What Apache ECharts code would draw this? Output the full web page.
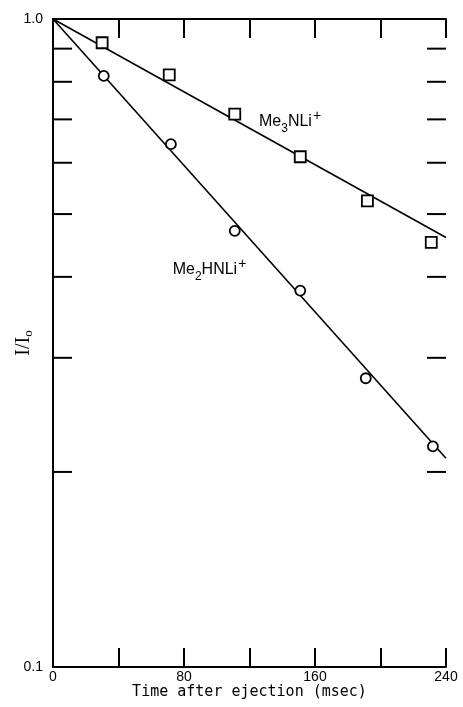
<!DOCTYPE html>
<html><head><meta charset="utf-8">
<script src="https://cdn.jsdelivr.net/npm/echarts@6/dist/echarts.min.js"></script>
<style>html,body{margin:0;padding:0;background:#fff}#c{width:463px;height:707px}</style>
</head><body><div id="c"></div>
<script>
// ---- data ----
const me3Time  = [30, 71, 111, 151, 192, 231];
const me3Ratio = [0.919, 0.820, 0.713, 0.613, 0.524, 0.452];
const me2Time  = [31, 72, 111, 151, 191, 232];
const me2Ratio = [0.817, 0.641, 0.471, 0.381, 0.279, 0.219];
const me3FitTime  = [0, 240];
const me3FitRatio = [1.0, 0.460];
const me2FitTime  = [0, 240];
const me2FitRatio = [1.0, 0.210];
const yMinorTicks = [0.2, 0.3, 0.4, 0.5, 0.6, 0.7, 0.8, 0.9];
const xLabelled   = [0, 80, 160, 240];

const zip = (a, b) => a.map((v, i) => [v, b[i]]);
const FONT = 'Liberation Sans';

const chart = echarts.init(document.getElementById('c'), null, {renderer: 'canvas'});
const axisLine = {show: true, lineStyle: {color: '#000', width: 2}};
const tick = {show: true, inside: true, length: 19, lineStyle: {color: '#000', width: 2}};

chart.setOption({
  animation: false,
  backgroundColor: '#fff',
  grid: {left: 53, right: 17, top: 19, bottom: 40, containLabel: false, outerBoundsMode: 'none'},
  xAxis: [{
    type: 'value', min: 0, max: 240, interval: 40, position: 'bottom',
    axisLine, axisTick: tick, splitLine: {show: false},
    axisLabel: {margin: 3, color: '#000', fontFamily: FONT, fontSize: 14,
      formatter: v => xLabelled.indexOf(v) >= 0 ? String(v) : ''},
    name: 'Time after ejection (msec)', nameLocation: 'middle', nameGap: 18, nameMoveOverlap: false,
    nameTextStyle: {color: '#000', fontFamily: 'DejaVu Sans Mono', fontSize: 15}
  }, {
    type: 'value', min: 0, max: 240, interval: 40, position: 'top',
    axisLine, axisTick: tick, splitLine: {show: false}, axisLabel: {show: false}
  }],
  yAxis: [{
    type: 'log', logBase: 10, min: 0.1, max: 1, position: 'left',
    axisLine, axisTick: {show: false}, splitLine: {show: false}, minorTick: {show: false},
    axisLabel: {margin: 10, color: '#000', fontFamily: FONT, fontSize: 14,
      formatter: v => Number(v).toFixed(1)},
    name: '{a|I/I}{b|o}', nameLocation: 'middle', nameGap: 18, nameMoveOverlap: false,
    nameTextStyle: {color: '#000', fontFamily: 'Liberation Serif', fontSize: 20,
      rich: {a: {fontFamily: 'Liberation Serif', fontSize: 20, color: '#000'},
             b: {fontFamily: 'Liberation Serif', fontSize: 13, color: '#000', padding: [9, 0, 0, 0]}}}
  }, {
    type: 'log', logBase: 10, min: 0.1, max: 1, position: 'right',
    axisLine, axisTick: {show: false}, splitLine: {show: false}, axisLabel: {show: false}
  }],
  series: [
    {type: 'line', data: zip(me3FitTime, me3FitRatio), symbol: 'none',
     lineStyle: {color: '#000', width: 1.6}, z: 2},
    {type: 'line', data: zip(me2FitTime, me2FitRatio), symbol: 'none',
     lineStyle: {color: '#000', width: 1.6}, z: 2},
    {type: 'scatter', name: 'Me3NLi+', data: zip(me3Time, me3Ratio), symbol: 'rect', symbolSize: 11,
     itemStyle: {color: '#fff', borderColor: '#000', borderWidth: 1.8, opacity: 1}, z: 3},
    {type: 'scatter', name: 'Me2HNLi+', data: zip(me2Time, me2Ratio), symbol: 'circle', symbolSize: 10,
     itemStyle: {color: '#fff', borderColor: '#000', borderWidth: 1.8, opacity: 1}, z: 3},
    {type: 'custom', z: 4,
     data: yMinorTicks.map(v => [0, v]),
     renderItem: (params, api) => {
       const v = api.value(1);
       const pL = api.coord([0, v]);
       const pR = api.coord([240, v]);
       const st = {stroke: '#000', lineWidth: 2};
       return {type: 'group', children: [
         {type: 'line', shape: {x1: pL[0], y1: pL[1], x2: pL[0] + 19, y2: pL[1]}, style: st},
         {type: 'line', shape: {x1: pR[0] - 19, y1: pR[1], x2: pR[0], y2: pR[1]}, style: st}
       ]};
     }},
    {type: 'scatter', symbolSize: 0, z: 5, silent: true,
     itemStyle: {opacity: 1},
     data: [[125.8, 0.694, 'me3'], [73.1, 0.410, 'me2']],
     label: {show: true, position: 'inside', align: 'left', verticalAlign: 'middle',
       color: '#000', textBorderWidth: 0, opacity: 1,
       formatter: p => p.value[2] === 'me3'
         ? '{n|Me}{s|3}{n|NLi}{p|+}' : '{n|Me}{s|2}{n|HNLi}{p|+}',
       rich: {
         n: {fontFamily: FONT, fontSize: 16, color: '#000', lineHeight: 20, textBorderWidth: 0},
         s: {fontFamily: FONT, fontSize: 12, color: '#000', lineHeight: 12, padding: [13, 0, 0, 0], textBorderWidth: 0},
         p: {fontFamily: FONT, fontSize: 14, color: '#000', lineHeight: 14, padding: [0, 0, 12, 1], textBorderWidth: 0}
       }}}
  ]
});
</script>
</body></html>
